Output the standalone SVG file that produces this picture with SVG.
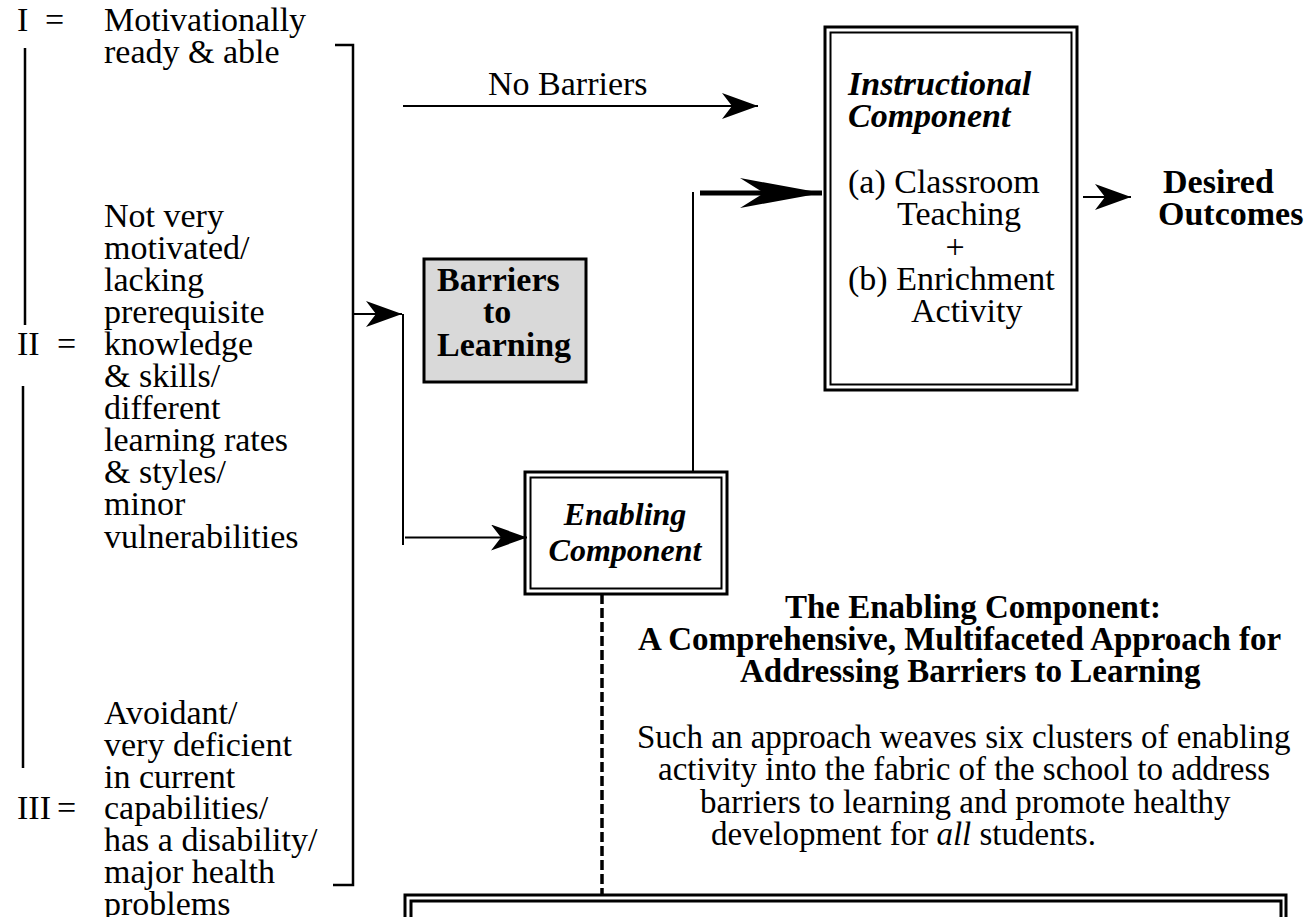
<svg xmlns="http://www.w3.org/2000/svg" width="1312" height="917" viewBox="0 0 1312 917">
<defs>
<style>
text{font-family:"Liberation Serif","Times New Roman",serif;fill:#000}
.r34{font-size:34px}
.b34{font-size:34px;font-weight:bold}
.bi34{font-size:34px;font-weight:bold;font-style:italic}
.bi32{font-size:32px;font-weight:bold;font-style:italic}
.b33{font-size:33px;font-weight:bold}
.r33{font-size:33px}
.ln{stroke:#000;stroke-width:2.5;fill:none}
.thin{stroke:#000;stroke-width:2;fill:none}
.thick{stroke:#000;stroke-width:5;fill:none}
.dash{stroke:#000;stroke-width:3.5;fill:none;stroke-dasharray:10 4}
.outer{stroke:#000;stroke-width:3;fill:none}
.inner{stroke:#000;stroke-width:2;fill:none}
</style>
<marker id="ah" markerUnits="userSpaceOnUse" viewBox="0 0 36 26" markerWidth="36" markerHeight="26" refX="36" refY="13" orient="auto"><path d="M0,0 L36,13 L0,26 L10,13 Z" fill="#000"/></marker>
<marker id="ahThick" markerUnits="userSpaceOnUse" viewBox="0 0 82 32" markerWidth="82" markerHeight="32" refX="82" refY="16" orient="auto"><path d="M0,1 L82,16 L0,31 L24,16 Z" fill="#000"/></marker>
</defs>
<rect width="1312" height="917" fill="#fff"/>

<g id="level-I">
<text class="r34" x="17" y="31">I</text>
<text class="r34" x="45" y="31">=</text>
<text class="r34" x="104" y="31">Motivationally</text>
<text class="r34" x="104" y="63">ready &amp; able</text>
</g>

<g id="level-II">
<text class="r34" x="17" y="355">II</text>
<text class="r34" x="57" y="355">=</text>
<text class="r34" x="104" y="227">Not very</text>
<text class="r34" x="104" y="259">motivated/</text>
<text class="r34" x="104" y="291">lacking</text>
<text class="r34" x="104" y="323">prerequisite</text>
<text class="r34" x="104" y="355">knowledge</text>
<text class="r34" x="104" y="387">&amp; skills/</text>
<text class="r34" x="104" y="419">different</text>
<text class="r34" x="104" y="451">learning rates</text>
<text class="r34" x="104" y="483">&amp; styles/</text>
<text class="r34" x="104" y="515">minor</text>
<text class="r34" x="104" y="548">vulnerabilities</text>
</g>

<g id="level-III">
<text class="r34" x="17" y="819">III</text>
<text class="r34" x="57" y="819">=</text>
<text class="r34" x="104" y="724">Avoidant/</text>
<text class="r34" x="104" y="756">very deficient</text>
<text class="r34" x="104" y="788">in current</text>
<text class="r34" x="104" y="819">capabilities/</text>
<text class="r34" x="104" y="851">has a disability/</text>
<text class="r34" x="104" y="883">major health</text>
<text class="r34" x="104" y="915">problems</text>
</g>

<g id="connectors">
<line class="ln" x1="25" y1="48" x2="25" y2="325"/>
<line class="ln" x1="23" y1="386" x2="23" y2="768"/>
<path class="ln" d="M335,45 H353 V885 H333"/>
<line class="thin" x1="403" y1="106" x2="758" y2="106" marker-end="url(#ah)"/>
<text class="r34" x="488" y="95">No Barriers</text>
<line class="thin" x1="353" y1="314" x2="402" y2="314" marker-end="url(#ah)"/>
<line class="thin" x1="403" y1="314" x2="403" y2="545"/>
<line class="thin" x1="405" y1="537.5" x2="527" y2="537.5" marker-end="url(#ah)"/>
<line class="thin" x1="693" y1="192" x2="693" y2="472"/>
<line class="thick" x1="700" y1="193" x2="822" y2="193" marker-end="url(#ahThick)"/>
<line class="thin" x1="1083" y1="197" x2="1131" y2="197" marker-end="url(#ah)"/>
<line class="dash" x1="602" y1="594" x2="602" y2="895"/>
</g>

<g id="barriers">
<rect x="424" y="259" width="162" height="123" fill="#d9d9d9" stroke="#000" stroke-width="3"/>
<text class="b34" x="437" y="291">Barriers</text>
<text class="b34" x="483" y="323">to</text>
<text class="b34" x="437" y="356">Learning</text>
</g>

<g id="instructional">
<rect class="outer" x="825" y="27" width="252" height="363"/>
<rect class="inner" x="830.5" y="32.5" width="241" height="352"/>
<text class="bi34" x="848" y="95">Instructional</text>
<text class="bi34" x="848" y="127">Component</text>
<text class="r34" x="848" y="193">(a) Classroom</text>
<text class="r34" x="897" y="225">Teaching</text>
<text class="r34" x="955" y="258" text-anchor="middle">+</text>
<text class="r34" x="848" y="290">(b) Enrichment</text>
<text class="r34" x="911" y="322">Activity</text>
</g>

<g id="outcomes">
<text class="b34" x="1163" y="193">Desired</text>
<text class="b34" x="1158" y="225">Outcomes</text>
</g>

<g id="enabling">
<rect class="outer" x="525" y="472" width="202" height="122"/>
<rect class="inner" x="530.5" y="477.5" width="191" height="111"/>
<text class="bi32" x="625" y="525" text-anchor="middle">Enabling</text>
<text class="bi32" x="625" y="561" text-anchor="middle">Component</text>
</g>

<g id="description">
<text class="b33" x="785" y="618">The Enabling Component:</text>
<text class="b33" x="638" y="650">A Comprehensive, Multifaceted Approach for</text>
<text class="b33" x="740" y="682">Addressing Barriers to Learning</text>
<text class="r33" x="637" y="748">Such an approach weaves six clusters of enabling</text>
<text class="r33" x="658" y="780">activity into the fabric of the school to address</text>
<text class="r33" x="700" y="813">barriers to learning and promote healthy</text>
<text class="r33" x="711" y="845">development for <tspan font-style="italic">all</tspan> students.</text>
</g>

<g id="clusters-box">
<rect class="outer" x="405" y="895" width="881" height="60"/>
<rect class="outer" x="411" y="901" width="870" height="60"/>
</g>
</svg>
